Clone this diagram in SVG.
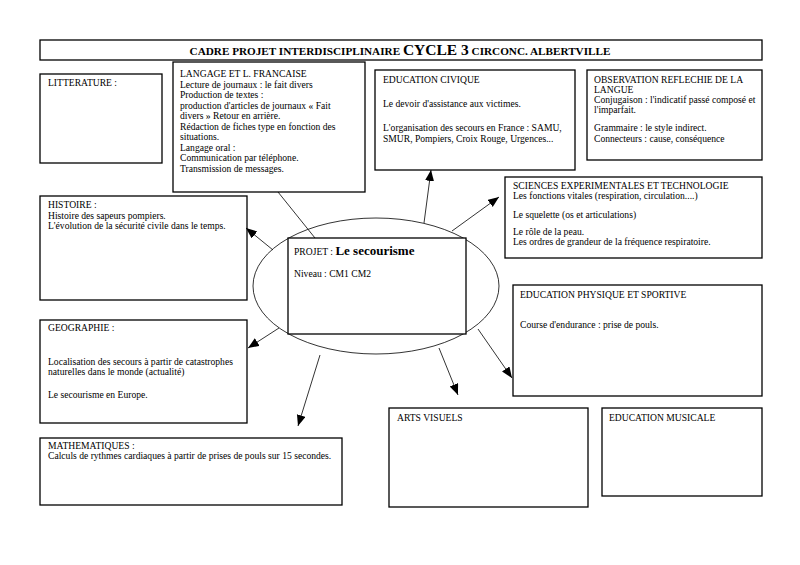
<svg xmlns="http://www.w3.org/2000/svg" width="800" height="565" viewBox="0 0 800 565">
<style>
  .box{fill:#fff;stroke:#000;stroke-width:1.3}
  .t{font-family:"Liberation Serif","Times New Roman",serif;font-size:9.6px;fill:#000}
  .b{font-weight:bold}
  .c{stroke:#000;stroke-width:0.8;fill:none}
</style>
<defs>
  <marker id="ah" markerUnits="userSpaceOnUse" markerWidth="12" markerHeight="10" refX="11" refY="4.5" orient="auto">
    <path d="M0,0 L11,4.5 L0,9 Z" fill="#000"/>
  </marker>
</defs>
<rect width="800" height="565" fill="#fff"/>

<g id="title">
  <rect class="box" x="40" y="40" width="722" height="20"/>
  <text class="t b" x="400" y="54.5" text-anchor="middle" style="font-size:11.2px">CADRE PROJET INTERDISCIPLINAIRE <tspan style="font-size:15.5px">CYCLE 3</tspan> CIRCONC. ALBERTVILLE</text>
</g>

<g id="litterature">
  <rect class="box" x="40" y="74" width="122" height="89"/>
  <text class="t" x="48" y="86">LITTERATURE :</text>
</g>

<g id="langage">
  <rect class="box" x="173" y="62" width="192" height="130"/>
  <text class="t" x="180" y="77">LANGAGE ET L. FRANCAISE</text>
  <text class="t" x="180" y="87.5">Lecture de journaux : le fait divers</text>
  <text class="t" x="180" y="98">Production de textes :</text>
  <text class="t" x="180" y="108.5">production d'articles de journaux « Fait</text>
  <text class="t" x="180" y="119">divers » Retour en arrière.</text>
  <text class="t" x="180" y="129.5">Rédaction de fiches type en fonction des</text>
  <text class="t" x="180" y="140">situations.</text>
  <text class="t" x="180" y="150.5">Langage oral :</text>
  <text class="t" x="180" y="161">Communication  par téléphone.</text>
  <text class="t" x="180" y="171.5">Transmission  de messages.</text>
</g>

<g id="civique">
  <rect class="box" x="375" y="70" width="200" height="100"/>
  <text class="t" x="383" y="83">EDUCATION CIVIQUE</text>
  <text class="t" x="383" y="107">Le devoir d'assistance aux victimes.</text>
  <text class="t" x="383" y="131">L'organisation des secours en France : SAMU,</text>
  <text class="t" x="383" y="142">SMUR, Pompiers, Croix Rouge, Urgences...</text>
</g>

<g id="observation">
  <rect class="box" x="587" y="70" width="175" height="90"/>
  <text class="t" x="594" y="83">OBSERVATION REFLECHIE DE LA</text>
  <text class="t" x="594" y="93">LANGUE</text>
  <text class="t" x="594" y="103">Conjugaison : l'indicatif passé composé et</text>
  <text class="t" x="594" y="113">l'imparfait.</text>
  <text class="t" x="594" y="131">Grammaire : le style indirect.</text>
  <text class="t" x="594" y="142">Connecteurs : cause, conséquence</text>
</g>

<g id="histoire">
  <rect class="box" x="40" y="196" width="207" height="104"/>
  <text class="t" x="48" y="208">HISTOIRE :</text>
  <text class="t" x="48" y="219">Histoire des sapeurs pompiers.</text>
  <text class="t" x="48" y="229">L'évolution de la sécurité civile dans le temps.</text>
</g>

<g id="sciences">
  <rect class="box" x="505" y="177" width="257" height="81"/>
  <text class="t" x="513" y="189">SCIENCES EXPERIMENTALES ET TECHNOLOGIE</text>
  <text class="t" x="513" y="199">Les fonctions vitales (respiration, circulation....)</text>
  <text class="t" x="513" y="218">Le squelette (os et articulations)</text>
  <text class="t" x="513" y="235">Le rôle de la peau.</text>
  <text class="t" x="513" y="245">Les ordres de grandeur de la fréquence respiratoire.</text>
</g>

<g id="projet">
  <ellipse cx="376" cy="286" rx="123" ry="68" fill="#fff" stroke="#000" stroke-width="0.8"/>
  <rect class="box" x="288" y="238" width="178" height="96"/>
  <text class="t" x="294" y="255">PROJET : <tspan class="b" style="font-size:13px">Le secourisme</tspan></text>
  <text class="t" x="294" y="277">Niveau : CM1 CM2</text>
</g>

<g id="eps">
  <rect class="box" x="513" y="285" width="249" height="111"/>
  <text class="t" x="520" y="298">EDUCATION PHYSIQUE ET SPORTIVE</text>
  <text class="t" x="520" y="328">Course d'endurance : prise de pouls.</text>
</g>

<g id="geographie">
  <rect class="box" x="40" y="320" width="207" height="103"/>
  <text class="t" x="48" y="331">GEOGRAPHIE :</text>
  <text class="t" x="48" y="365">Localisation des secours à partir de catastrophes</text>
  <text class="t" x="48" y="375">naturelles dans le monde (actualité)</text>
  <text class="t" x="48" y="398">Le secourisme en Europe.</text>
</g>

<g id="mathematiques">
  <rect class="box" x="40" y="438" width="302" height="67"/>
  <text class="t" x="48" y="449">MATHEMATIQUES :</text>
  <text class="t" x="48" y="459">Calculs de rythmes cardiaques à partir de prises de pouls sur 15 secondes.</text>
</g>

<g id="arts">
  <rect class="box" x="389" y="408" width="199" height="99"/>
  <text class="t" x="397" y="421">ARTS VISUELS</text>
</g>

<g id="musicale">
  <rect class="box" x="602" y="408" width="160" height="88"/>
  <text class="t" x="609" y="421">EDUCATION MUSICALE</text>
</g>

<g id="connectors">
  <line class="c" x1="278" y1="192" x2="315" y2="238"/>
  <line class="c" x1="424" y1="223" x2="431" y2="170" marker-end="url(#ah)"/>
  <line class="c" x1="452" y1="231" x2="499" y2="197" marker-end="url(#ah)"/>
  <line class="c" x1="273" y1="250" x2="246" y2="228" marker-end="url(#ah)"/>
  <line class="c" x1="279" y1="328" x2="248" y2="348" marker-end="url(#ah)"/>
  <line class="c" x1="320" y1="355" x2="298" y2="426" marker-end="url(#ah)"/>
  <line class="c" x1="439" y1="348" x2="458" y2="395" marker-end="url(#ah)"/>
  <line class="c" x1="478" y1="329" x2="512" y2="378" marker-end="url(#ah)"/>
</g>
</svg>
